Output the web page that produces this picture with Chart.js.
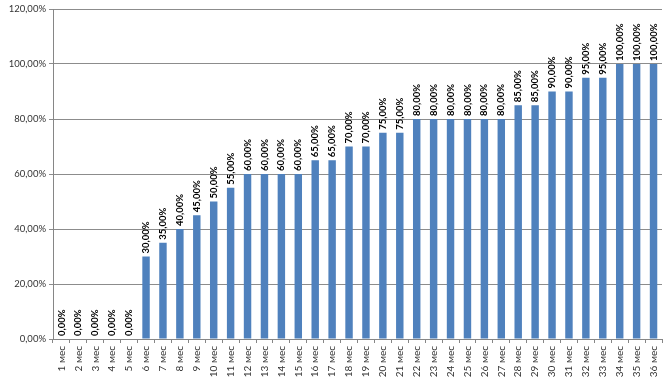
<!DOCTYPE html>
<html lang="ru">
<head>
    <meta charset="UTF-8">
    <title>Доля по месяцам</title>
    <script src="https://cdn.jsdelivr.net/npm/chart.js"></script>
    <style>
        html, body {
            margin: 0;
            padding: 0;
            background: #fff;
        }
        .chart-box {
            width: 671px;
            height: 381px;
        }
    </style>
</head>
<body>
    <div class="chart-box">
        <canvas id="chart" width="671" height="381"></canvas>
    </div>

    <script>
        // месяцы 1..36
        const months = [
            '1 мес', '2 мес', '3 мес', '4 мес', '5 мес', '6 мес', '7 мес', '8 мес', '9 мес',
            '10 мес', '11 мес', '12 мес', '13 мес', '14 мес', '15 мес', '16 мес', '17 мес', '18 мес',
            '19 мес', '20 мес', '21 мес', '22 мес', '23 мес', '24 мес', '25 мес', '26 мес', '27 мес',
            '28 мес', '29 мес', '30 мес', '31 мес', '32 мес', '33 мес', '34 мес', '35 мес', '36 мес'
        ];
        const percents = [
            0, 0, 0, 0, 0, 30, 35, 40, 45,
            50, 55, 60, 60, 60, 60, 65, 65, 70,
            70, 75, 75, 80, 80, 80, 80, 80, 80,
            85, 85, 90, 90, 95, 95, 100, 100, 100
        ];
        const yTicks = [0, 20, 40, 60, 80, 100, 120];

        const fmt = v => v.toFixed(2).replace('.', ',') + '%';
        const fontFamily = 'Lato, "Open Sans", sans-serif';

        // подписи значений над столбцами, повернуты вертикально
        const valueLabels = {
            id: 'valueLabels',
            afterDatasetsDraw(chart) {
                const ctx = chart.ctx;
                const meta = chart.getDatasetMeta(0);
                ctx.save();
                ctx.font = 'bold 9.5px ' + fontFamily;
                ctx.fillStyle = '#000';
                ctx.textAlign = 'left';
                ctx.textBaseline = 'middle';
                meta.data.forEach((bar, i) => {
                    ctx.save();
                    ctx.translate(bar.x, bar.y - 3);
                    ctx.rotate(-Math.PI / 2);
                    ctx.fillText(fmt(percents[i]), 0, 0);
                    ctx.restore();
                });
                ctx.restore();
            }
        };

        new Chart(document.getElementById('chart'), {
            type: 'bar',
            data: {
                labels: months,
                datasets: [{
                    data: percents,
                    backgroundColor: '#4f81bd',
                    barPercentage: 0.44,
                    categoryPercentage: 1
                }]
            },
            options: {
                responsive: false,
                animation: false,
                layout: { padding: { top: 9, right: 9, bottom: 0, left: 0 } },
                plugins: {
                    legend: { display: false },
                    tooltip: { enabled: false }
                },
                scales: {
                    x: {
                        grid: {
                            drawOnChartArea: false,
                            drawTicks: true,
                            tickLength: 4,
                            color: '#868686'
                        },
                        border: { color: '#868686' },
                        ticks: {
                            minRotation: 90,
                            maxRotation: 90,
                            autoSkip: false,
                            padding: 3,
                            color: '#333',
                            font: { family: fontFamily, size: 10 }
                        },
                        afterFit(scale) { scale.height = 42; }
                    },
                    y: {
                        min: 0,
                        max: 120,
                        afterBuildTicks(scale) {
                            scale.ticks = yTicks.map(v => ({ value: v }));
                        },
                        grid: {
                            color: '#8c8c8c',
                            tickLength: 4
                        },
                        border: { color: '#868686' },
                        ticks: {
                            padding: 3,
                            color: '#333',
                            font: { family: fontFamily, size: 9.5 },
                            callback: v => fmt(v)
                        },
                        afterFit(scale) { scale.width = 53; }
                    }
                }
            },
            plugins: [valueLabels]
        });
    </script>
</body>
</html>
